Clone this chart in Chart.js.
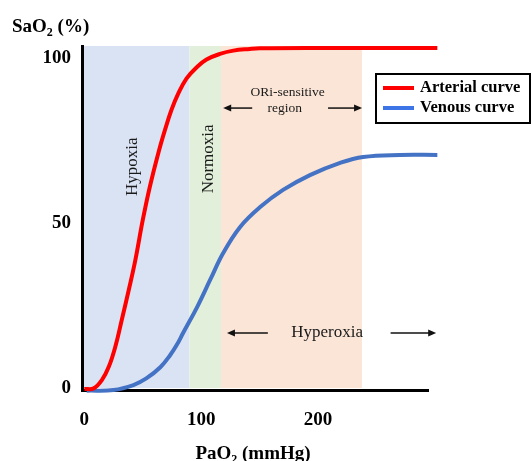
<!DOCTYPE html>
<html>
<head>
<meta charset="utf-8">
<script src="https://cdn.jsdelivr.net/npm/chart.js@4.4.0/dist/chart.umd.min.js"></script>
<style>
  html, body { margin: 0; padding: 0; background: #fff; }
</style>
</head>
<body>
<canvas id="curvas" width="532" height="461"></canvas>
<script>
// valores
const paO2Arterial = [0, 8, 15, 21, 26.5, 32, 38, 43.5, 50, 56, 64, 69, 74.5, 80.5, 87.5, 96, 104.5, 116, 127.5, 141.5, 150, 200, 302];
const saO2Arterial = [-0.3, -0.1, 2.4, 6.5, 12.5, 20.6, 29.7, 38.5, 50.9, 60.9, 72.1, 78.2, 84.2, 89.3, 93.8, 97.1, 99.5, 101.2, 102.2, 102.7, 102.9, 103, 103];
const paO2Venous = [2, 25, 42, 53, 65, 73.5, 79, 84.7, 96.6, 107.7, 118.8, 133.3, 150.4, 170, 193, 218.8, 238.5, 270, 302];
const saO2Venous = [-0.8, -0.6, 0.9, 2.9, 6.3, 10, 13, 16.8, 24.6, 32.8, 40.9, 48.8, 54.8, 60, 64.5, 68.2, 70, 70.6, 70.6];
const xTicks = [0, 100, 200];
const yTicks = [0, 50, 100];
const regionFrom = [-2, 90, 117];
const regionTo = [90, 117, 237.5];
const regionColors = ['#dae3f3', '#e2efda', '#fbe5d6'];

const serif = '"Liberation Serif", "Times New Roman", serif';

function puntos(xs, ys) {
  return xs.map((x, i) => ({ x: x, y: ys[i] }));
}

// texto con subindice: partes = [[texto, esSub], ...]
function textoSub(ctx, partes, x, y, size, align) {
  const big = 'bold ' + size + 'px ' + serif;
  const small = 'bold ' + Math.round(size * 0.65) + 'px ' + serif;
  let total = 0;
  partes.forEach(p => { ctx.font = p[1] ? small : big; total += ctx.measureText(p[0]).width; });
  let cx = align === 'center' ? x - total / 2 : x;
  ctx.textAlign = 'left';
  ctx.textBaseline = 'alphabetic';
  partes.forEach(p => {
    ctx.font = p[1] ? small : big;
    ctx.fillText(p[0], cx, p[1] ? y + size * 0.22 : y);
    cx += ctx.measureText(p[0]).width;
  });
}

function flecha(ctx, x1, y, x2) {
  const dir = x2 > x1 ? 1 : -1;
  ctx.beginPath();
  ctx.moveTo(x1, y);
  ctx.lineTo(x2 - dir * 6, y);
  ctx.stroke();
  ctx.beginPath();
  ctx.moveTo(x2, y);
  ctx.lineTo(x2 - dir * 8, y - 3.5);
  ctx.lineTo(x2 - dir * 8, y + 3.5);
  ctx.closePath();
  ctx.fill();
}

// zonas de fondo, antes de los ejes para que el borde quede encima
const regiones = {
  id: 'regiones',
  beforeDraw(chart) {
    const { ctx, scales: { x, y } } = chart;
    ctx.save();
    regionFrom.forEach((a, i) => {
      const x1 = x.getPixelForValue(a);
      const x2 = x.getPixelForValue(regionTo[i]);
      const top = y.getPixelForValue(y.max);
      const bot = y.getPixelForValue(0);
      ctx.fillStyle = regionColors[i];
      ctx.fillRect(x1, top, x2 - x1, bot - top);
    });
    ctx.restore();
  }
};

const textos = {
  id: 'textos',
  afterDraw(chart) {
    const { ctx, scales: { x, y } } = chart;
    const px = v => x.getPixelForValue(v);
    const py = v => y.getPixelForValue(v);
    ctx.save();
    ctx.fillStyle = '#1a1a1a';
    ctx.strokeStyle = '#111';
    ctx.lineWidth = 1.5;

    // etiquetas giradas
    ctx.font = '17px ' + serif;
    ctx.textAlign = 'center';
    ctx.textBaseline = 'middle';
    [['Hypoxia', 41, 67], ['Normoxia', 106, 69.4]].forEach(t => {
      ctx.save();
      ctx.translate(px(t[1]), py(t[2]));
      ctx.rotate(-Math.PI / 2);
      ctx.fillText(t[0], 0, 0);
      ctx.restore();
    });

    ctx.font = '13.5px ' + serif;
    ctx.fillText('ORi-sensitive', px(174), py(89.4));
    ctx.fillText('region', px(171.5), py(84.8));
    ctx.fillStyle = '#111';
    flecha(ctx, px(143.6), py(84.8), px(118.8));
    flecha(ctx, px(208.5), py(84.8), px(237.6));

    ctx.fillStyle = '#1a1a1a';
    ctx.font = '17px ' + serif;
    ctx.fillText('Hyperoxia', px(207.7), py(16.7));
    ctx.fillStyle = '#111';
    flecha(ctx, px(157), py(16.7), px(122));
    flecha(ctx, px(262), py(16.7), px(301));

    // titulos de ejes
    ctx.fillStyle = '#000';
    textoSub(ctx, [['SaO', false], ['2', true], [' (%)', false]], 12, 32, 19, 'left');
    textoSub(ctx, [['PaO', false], ['2', true], [' (mmHg)', false]], 253, 459, 19, 'center');

    // leyenda
    ctx.lineWidth = 2;
    ctx.strokeStyle = '#000';
    ctx.strokeRect(376, 74, 154, 49);
    ctx.lineWidth = 4;
    ctx.strokeStyle = '#ff0000';
    ctx.beginPath(); ctx.moveTo(383, 88); ctx.lineTo(414, 88); ctx.stroke();
    ctx.strokeStyle = '#3d74e6';
    ctx.beginPath(); ctx.moveTo(383, 108); ctx.lineTo(414, 108); ctx.stroke();
    ctx.font = 'bold 16.5px ' + serif;
    ctx.textAlign = 'left';
    ctx.textBaseline = 'middle';
    ctx.fillStyle = '#000';
    ctx.fillText('Arterial curve', 420, 88);
    ctx.fillText('Venous curve', 420, 108);
    ctx.restore();
  }
};

const ctx = document.getElementById('curvas').getContext('2d');
const grafica = new Chart(ctx, {
  type: 'line',
  data: {
    datasets: [{
      label: 'Arterial curve',
      data: puntos(paO2Arterial, saO2Arterial),
      borderColor: '#ff0000',
      borderWidth: 4,
      pointRadius: 0,
      tension: 0.4,
      clip: false
    }, {
      label: 'Venous curve',
      data: puntos(paO2Venous, saO2Venous),
      borderColor: '#4472c4',
      borderWidth: 4,
      pointRadius: 0,
      tension: 0.4,
      clip: false
    }]
  },
  options: {
    responsive: false,
    animation: false,
    layout: { padding: { top: 46, right: 104, left: 0, bottom: 0 } },
    plugins: {
      legend: { display: false },
      tooltip: { enabled: false }
    },
    scales: {
      x: {
        type: 'linear',
        min: -2,
        max: 294,
        grid: { display: false, drawTicks: false },
        border: { display: true, color: '#000', width: 3 },
        ticks: {
          color: '#000',
          padding: 19,
          font: { family: serif, size: 19, weight: 'bold' }
        },
        afterBuildTicks: s => { s.ticks = xTicks.map(v => ({ value: v })); },
        afterFit: s => { s.height = 71; }
      },
      y: {
        min: -0.6,
        max: 103.6,
        grid: { display: false, drawTicks: false },
        border: { display: true, color: '#000', width: 3 },
        ticks: {
          color: '#000',
          padding: 11,
          font: { family: serif, size: 19, weight: 'bold' }
        },
        afterBuildTicks: s => { s.ticks = yTicks.map(v => ({ value: v })); },
        afterFit: s => { s.width = 82; }
      }
    }
  },
  plugins: [regiones, textos]
});
</script>
</body>
</html>
